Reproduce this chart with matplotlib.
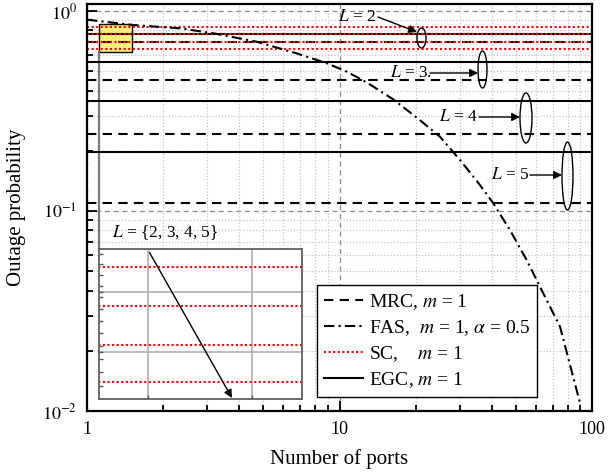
import numpy as np
import matplotlib
matplotlib.use('Agg')
import matplotlib.pyplot as plt
from matplotlib.patches import Ellipse, Rectangle
from matplotlib.ticker import FixedLocator, NullFormatter, LogLocator, FixedFormatter, NullLocator

# ---------------- data ----------------
L_values = [2, 3, 4, 5]
mrc_outage = [0.702, 0.452, 0.243, 0.110]
egc_outage = [0.765, 0.558, 0.356, 0.198]
sc_outage = [0.835, 0.765, 0.702, 0.646]
fas_ports = [1.0, 1.52, 2.34, 3.16, 4.70, 6.77, 8.90, 10.7, 12.8, 16.3, 20.8, 25.0,
             30.0, 35.5, 40.5, 47.3, 55.1, 64.1, 74.7, 89.6]
fas_outage = [0.905, 0.851, 0.819, 0.774, 0.702, 0.614, 0.548, 0.497, 0.440, 0.362, 0.285, 0.235,
              0.180, 0.138, 0.110, 0.0804, 0.0569, 0.0388, 0.0264, 0.0110]
x_range = [1, 100]
x_ticks = [1, 10, 100]
x_ticklabels = ['1', '10', '100']
y_ticks = [0.01, 0.1, 1]
y_ticklabels = ['$10^{-2}$', '$10^{-1}$', '$10^{0}$']
zoom_box_x = [1.116, 1.507]
zoom_box_y = [0.624, 0.861]

plt.rcParams['font.family'] = 'serif'
plt.rcParams['font.serif'] = ['Liberation Serif', 'DejaVu Serif']
plt.rcParams['mathtext.fontset'] = 'stix'

W, H = 616, 474
fig = plt.figure(figsize=(W / 100, H / 100), dpi=100)
ax = fig.add_axes([87 / W, (H - 411) / H, 505 / W, 407 / H])
ax.set_xscale('log')
ax.set_yscale('log')
ax.set_xlim(1, 100)
ax.set_ylim(0.01, 1.084)


def px(x, y):
    """figure-pixel (from top-left) -> data coordinates of main axes"""
    return 10 ** ((x - 87) / 252.5), 10 ** (-(y - 11) / 200)


# grid
ax.set_axisbelow(True)
ax.grid(which='minor', color='#c4c4c4', ls=(0, (1, 1.5)), lw=0.9)
ax.grid(which='major', color='#8a8a8a', ls=(0, (4, 3)), lw=0.9)

# zoom box
rect = Rectangle((zoom_box_x[0], zoom_box_y[0]), zoom_box_x[1] - zoom_box_x[0],
                 zoom_box_y[1] - zoom_box_y[0], facecolor='#fff27a', edgecolor='black',
                 lw=1.0, zorder=1.5)
ax.add_patch(rect)
ax.plot([zoom_box_x[0], zoom_box_x[0]], [zoom_box_y[0], px(0, 249)[1]], color='#7a7a7a', lw=1.6, zorder=1.6)

h_mrc = h_egc = h_sc = None
for v in mrc_outage:
    h_mrc, = ax.plot(x_range, [v, v], color='black', lw=1.5, dashes=(4.5, 3.0), zorder=2)
for v in egc_outage:
    h_egc, = ax.plot(x_range, [v, v], color='black', lw=1.5, zorder=2)
for v in sc_outage:
    h_sc, = ax.plot(x_range, [v, v], color='red', lw=1.5, ls=(0, (1, 1.2)), zorder=2.5)
h_fas, = ax.plot(fas_ports, fas_outage, color='black', lw=1.5, dashes=(5, 2, 1, 2), zorder=3)

ax.xaxis.set_major_locator(FixedLocator(x_ticks))
ax.xaxis.set_major_formatter(FixedFormatter(x_ticklabels))
ax.xaxis.set_minor_locator(LogLocator(base=10, subs=np.arange(2, 10)))
ax.xaxis.set_minor_formatter(NullFormatter())
ax.yaxis.set_major_locator(FixedLocator(y_ticks))
ax.yaxis.set_major_formatter(FixedFormatter(y_ticklabels))
ax.yaxis.set_minor_locator(LogLocator(base=10, subs=np.arange(2, 10)))
ax.yaxis.set_minor_formatter(NullFormatter())
ax.tick_params(which='both', direction='in', top=False, right=False, labelsize=13, width=1.3)
ax.tick_params(which='major', length=7, pad=7)
ax.tick_params(which='minor', length=4)
for s in ax.spines.values():
    s.set_linewidth(1.6)

ax.set_xlabel('Number of ports', fontsize=15, labelpad=8)
ax.set_ylabel('Outage probability', fontsize=15, labelpad=12)

# legend
leg = ax.legend([h_mrc, h_fas, h_sc, h_egc],
                ['MRC, $m$ = 1', 'FAS,  $m$ = 1, $\\alpha$ = 0.5', 'SC,    $m$ = 1', 'EGC, $m$ = 1'],
                loc='lower left', bbox_to_anchor=(317 / W, (H - 397) / H),
                bbox_transform=fig.transFigure, borderaxespad=0, fontsize=14,
                fancybox=False, framealpha=1, edgecolor='black', handlelength=2.0,
                handletextpad=0.3, borderpad=0.35, labelspacing=0.33)
leg.get_frame().set_linewidth(1.0)
leg.set_zorder(5)

# annotations with ellipses
ann = [
    ('$L$ = 2', (357, 17), (378, 17), (417, 32), (421.5, 38), 9, 20),
    ('$L$ = 3.', (411, 73), (430, 73), (478, 73), (482.5, 69.5), 9, 37),
    ('$L$ = 4', (458, 117), (479, 117), (520, 117), (526, 118), 12, 50),
    ('$L$ = 5', (510, 175), (530, 175), (562, 175), (567.5, 176), 11, 68),
]
for txt, tpos, a0, a1, ec, ew, eh in ann:
    ax.text(*px(*tpos), txt, fontsize=12.5, ha='center', va='center', zorder=6)
    ax.annotate('', xy=px(*a1), xytext=px(*a0),
                arrowprops=dict(arrowstyle='-|>', color='black', lw=1.0, mutation_scale=12,
                                shrinkA=0, shrinkB=0), zorder=6)
    e = Ellipse((ec[0] / W, 1 - ec[1] / H), ew / W, eh / H, transform=fig.transFigure,
                facecolor='none', edgecolor='black', lw=1.0)
    fig.add_artist(e)

# inset
axin = fig.add_axes([99 / W, (H - 399) / H, 203 / W, 150 / H])
axin.set_xscale('log')
axin.set_yscale('log')
axin.set_xlim(*zoom_box_x)
axin.set_ylim(0.622, 0.869)
for v in sc_outage:
    axin.plot(x_range, [v, v], color='red', lw=1.5, ls=(0, (1, 1.2)))
axin.xaxis.set_major_locator(FixedLocator([1.2, 1.4]))
axin.xaxis.set_minor_locator(NullLocator())
axin.yaxis.set_major_locator(FixedLocator([0.69, 0.79]))
axin.yaxis.set_minor_locator(FixedLocator(list(np.arange(0.64, 0.87, 0.02))))
for a in (axin.xaxis, axin.yaxis):
    a.set_major_formatter(NullFormatter())
    a.set_minor_formatter(NullFormatter())
axin.tick_params(which='both', direction='in', length=3, color='#555555', width=1.0)
axin.grid(which='major', color='#b5b5b5', lw=1.3)
axin.set_axisbelow(True)
for s in axin.spines.values():
    s.set_color('#606060')
    s.set_linewidth(1.3)

axin.annotate('$L$ = {2, 3, 4, 5}', xy=(232, H - 398), xytext=(165, H - 233),
              xycoords='figure pixels', textcoords='figure pixels',
              fontsize=12.5, ha='center', va='center',
              arrowprops=dict(arrowstyle='-|>', color='black', lw=1.0, mutation_scale=12,
                              shrinkA=6, shrinkB=0, relpos=(0.3, 0.0)))

fig.savefig('out.png', dpi=100)
